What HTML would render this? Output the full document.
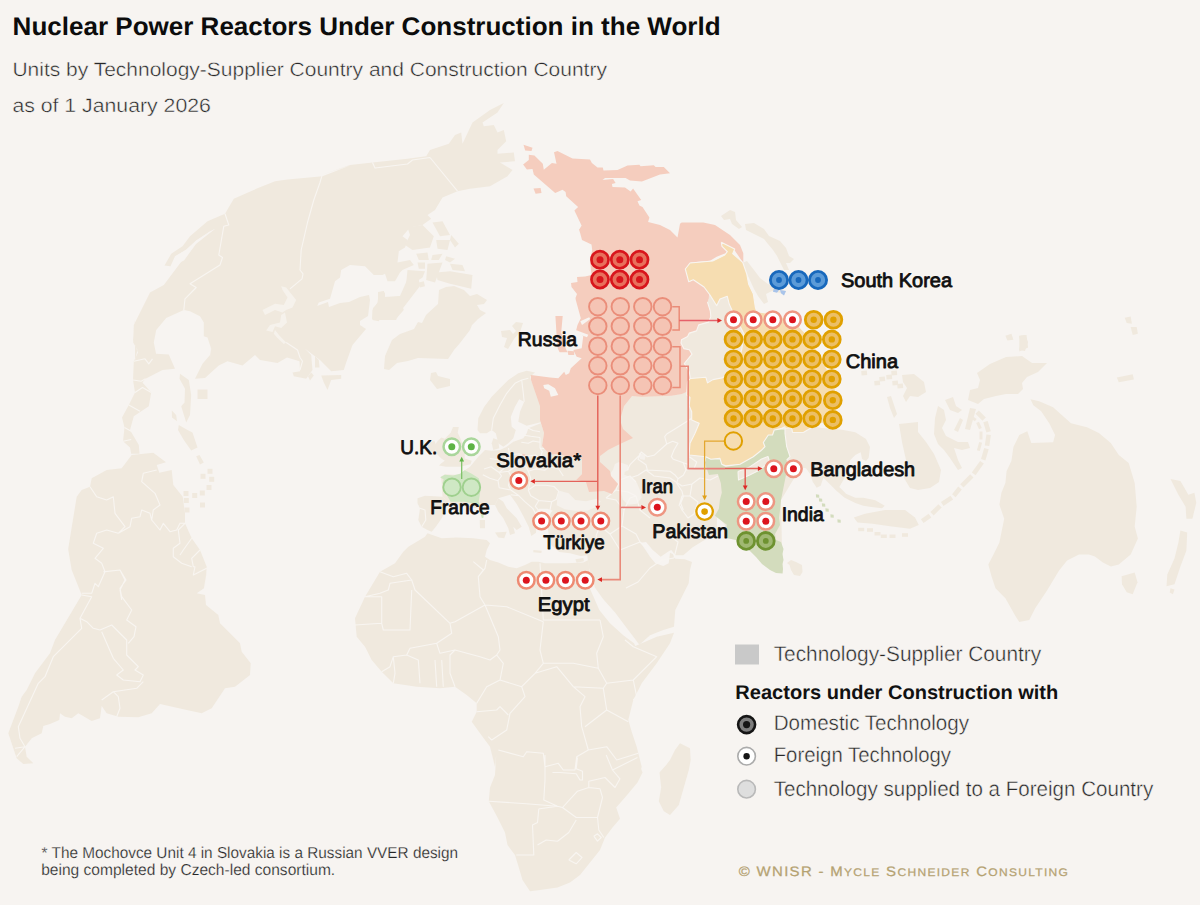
<!DOCTYPE html>
<html lang="en"><head><meta charset="utf-8">
<title>Nuclear Power Reactors Under Construction in the World</title>
<style>
html,body{margin:0;padding:0;background:#f7f4f1;}
body{width:1200px;height:905px;overflow:hidden;font-family:"Liberation Sans", sans-serif;}
svg{display:block}
</style></head><body>
<svg width="1200" height="905" viewBox="0 0 1200 905" font-family='"Liberation Sans", sans-serif' text-rendering="geometricPrecision">
<path d="M457.5 191.2 L470.0 188.8 L490.0 186.2 L507.5 176.2 L512.5 170.0 L500.0 162.5 L515.0 161.2 L513.8 152.5 L497.5 153.8 L497.5 150.0 L506.2 141.2 L503.8 130.0 L497.5 132.5 L493.8 125.0 L483.8 126.2 L482.5 122.5 L497.5 112.5 L503.8 103.0 L490.0 110.0 L472.5 122.5 L462.5 143.8 L461.2 132.5 L455.0 135.0 L448.8 143.8 L430.0 150.0 L426.2 156.2 L407.5 158.8 L372.5 162.5 L350.0 165.0 L321.2 175.0 L351.2 165.0 L322.5 176.2 L287.5 179.5 L275.0 181.2 L256.2 188.8 L233.8 198.8 L225.0 213.8 L207.5 221.2 L190.0 236.2 L182.5 246.2 L171.2 253.8 L164.5 265.5 L170.5 266.2 L175.0 256.2 L186.2 250.0 L196.2 240.5 L210.0 231.2 L215.5 228.8 L195.0 242.5 L182.5 260.0 L163.8 285.0 L150.0 292.5 L133.8 325.0 L133.2 342.5 L137.5 350.0 L135.0 360.0 L135.0 320.0 L133.0 340.0 L138.0 352.5 L133.8 361.2 L133.0 380.0 L135.0 392.5 L128.8 405.0 L122.0 417.5 L124.5 427.5 L123.0 441.2 L130.0 447.5 L131.2 453.8 L139.5 453.8 L138.8 445.0 L130.0 430.0 L133.8 416.2 L148.8 406.2 L151.2 392.5 L142.5 382.5 L145.5 378.8 L162.5 370.0 L175.0 368.8 L168.8 354.5 L156.2 353.8 L156.2 354.5 L153.8 342.5 L156.2 330.0 L166.2 318.0 L183.8 310.0 L190.0 311.2 L200.0 316.2 L203.8 322.5 L203.8 336.2 L207.5 337.5 L211.2 348.8 L210.0 357.5 L211.2 342.5 L210.0 355.0 L202.5 363.8 L195.0 378.8 L205.0 378.0 L218.8 365.5 L227.5 361.2 L242.5 365.5 L255.0 355.0 L260.0 360.0 L277.5 363.0 L287.0 357.5 L299.5 361.2 L300.0 371.2 L292.5 372.5 L293.8 376.2 L306.2 378.8 L312.5 370.0 L311.2 355.0 L305.0 348.8 L320.0 360.0 L331.2 371.2 L343.8 370.0 L346.2 362.5 L352.5 345.0 L366.2 328.8 L366.0 329.0 L360.0 325.0 L360.0 321.0 L368.0 316.0 L370.0 300.0 L369.0 295.0 L360.0 297.0 L349.0 302.0 L340.0 303.0 L329.0 307.0 L328.0 302.0 L317.0 306.0 L314.0 313.0 L318.8 302.5 L330.0 298.8 L335.0 281.2 L340.0 277.5 L341.2 270.0 L350.0 265.0 L365.0 266.2 L373.8 275.0 L382.5 275.0 L385.0 273.8 L387.5 281.2 L395.0 281.2 L400.0 272.5 L402.5 270.0 L413.8 265.0 L410.0 260.0 L397.5 262.5 L398.8 251.2 L405.0 247.5 L407.5 240.0 L402.5 236.2 L410.0 227.5 L422.5 225.0 L431.2 218.8 L427.5 215.0 L435.0 210.0 L442.5 197.5Z" fill="#f0e9de"/>
<path d="M378.0 292.0 L384.0 291.0 L384.0 297.0 L400.0 296.0 L408.0 278.0 L418.0 276.0 L420.0 286.0 L400.0 312.0 L397.0 318.0 L389.0 317.0 L388.0 320.0 L380.0 318.0 L379.0 320.0 L372.0 319.0 L373.0 308.0 L378.0 303.0Z" fill="#f0e9de"/>
<path d="M407.5 270.0 L425.0 271.2 L422.5 277.5 L411.2 285.0 L400.0 305.0 L396.2 320.0 L373.8 320.0 L375.0 307.5 L380.0 300.0 L378.8 292.5 L385.0 292.5 L385.0 298.8 L405.0 295.0Z" fill="#f0e9de"/>
<path d="M407.5 227.5 L422.5 225.0 L433.8 236.2 L430.0 247.5 L412.5 250.0 L405.0 245.0 L410.0 235.0Z" fill="#f0e9de"/>
<path d="M432.5 222.5 L442.5 221.2 L450.0 235.0 L440.0 236.2Z" fill="#f0e9de"/>
<path d="M436.2 240.0 L450.0 240.0 L447.5 250.0 L437.5 248.8Z" fill="#f0e9de"/>
<path d="M451.2 235.0 L458.8 243.8 L455.0 247.5 L450.0 240.0Z" fill="#f0e9de"/>
<path d="M416.2 253.8 L427.5 252.5 L428.8 260.0 L418.8 260.0Z" fill="#f0e9de"/>
<path d="M432.5 255.0 L442.5 253.8 L438.8 260.0 L431.2 260.0Z" fill="#f0e9de"/>
<path d="M446.2 256.2 L455.0 258.8 L450.0 262.5 L445.0 260.0Z" fill="#f0e9de"/>
<path d="M450.0 263.8 L462.5 265.0 L465.0 271.2 L452.5 270.0Z" fill="#f0e9de"/>
<path d="M417.5 262.5 L425.0 262.5 L425.0 268.8 L418.8 268.8Z" fill="#f0e9de"/>
<path d="M427.5 263.8 L442.5 262.5 L435.0 282.5 L426.2 280.0Z" fill="#f0e9de"/>
<path d="M436.2 272.5 L450.0 271.2 L472.5 275.0 L471.2 288.8 L450.0 283.8 L437.5 280.0Z" fill="#f0e9de"/>
<path d="M418.8 282.5 L423.8 281.2 L425.0 286.2 L420.0 287.5Z" fill="#f0e9de"/>
<path d="M378.8 292.5 L383.8 291.2 L385.0 298.8 L400.0 297.5 L403.8 310.0 L395.0 320.0 L387.5 317.5 L385.0 320.0 L380.0 318.8 L378.8 321.2 L372.5 320.0 L372.5 310.0 L377.5 302.5Z" fill="#f0e9de"/>
<path d="M384.0 369.0 L385.0 356.0 L392.0 340.0 L400.0 334.0 L414.0 329.0 L418.0 322.0 L422.0 323.0 L426.0 315.0 L438.0 304.0 L439.0 290.0 L446.0 287.0 L454.0 286.0 L464.0 290.0 L470.0 296.0 L477.0 294.0 L487.0 300.0 L484.0 304.0 L477.0 305.0 L480.0 310.0 L486.0 313.0 L478.0 319.0 L472.0 325.0 L470.0 330.0 L460.0 343.0 L454.0 350.0 L448.0 359.0 L418.0 358.0 L408.0 361.0 L397.0 363.0 L389.0 370.0Z" fill="#f0e9de"/>
<path d="M431.0 373.0 L436.0 372.0 L438.0 376.0 L450.0 379.0 L450.0 386.0 L437.0 389.0 L430.0 380.0Z" fill="#f0e9de"/>
<path d="M501.0 331.0 L510.0 330.0 L513.0 334.0 L516.0 331.0 L512.0 326.0 L516.0 322.0 L523.0 323.0 L520.0 332.0 L514.0 339.0 L508.0 349.0 L504.0 347.0 L507.0 338.0 L502.0 337.0Z" fill="#f0e9de"/>
<path d="M321.2 375.5 L341.2 375.0 L341.2 378.8 L331.2 380.0 L327.5 390.0 L323.8 382.5Z" fill="#f0e9de"/>
<path d="M315.0 356.2 L318.8 360.0 L319.5 367.5 L315.0 367.5Z" fill="#f0e9de"/>
<path d="M308.0 376.2 L311.2 372.5 L313.8 375.5 L310.0 380.5Z" fill="#f0e9de"/>
<path d="M180.0 373.8 L188.8 380.0 L191.2 395.0 L190.0 415.0 L186.2 422.5 L181.2 406.2 L184.5 402.5 L185.0 388.8 L179.5 378.8Z" fill="#f0e9de"/>
<path d="M171.8 410.5 L176.2 415.0 L177.0 421.2 L172.0 417.5Z" fill="#f0e9de"/>
<path d="M178.8 425.0 L187.5 430.0 L192.5 432.5 L197.5 447.5 L191.2 450.5 L183.8 440.0 L178.0 430.0Z" fill="#f0e9de"/>
<path d="M196.2 456.2 L199.5 455.0 L203.8 462.5 L200.0 464.5Z" fill="#f0e9de"/>
<path d="M197.5 389.5 L207.5 389.5 L207.5 399.0 L197.5 399.0Z" fill="#f0e9de"/>
<path d="M207.5 468.8 L212.5 468.8 L212.5 473.8 L207.5 473.8Z" fill="#f0e9de"/>
<path d="M200.5 473.8 L205.5 473.8 L205.5 478.8 L200.5 478.8Z" fill="#f0e9de"/>
<path d="M209.2 476.8 L214.2 476.8 L214.2 481.8 L209.2 481.8Z" fill="#f0e9de"/>
<path d="M206.5 485.0 L211.5 485.0 L211.5 490.0 L206.5 490.0Z" fill="#f0e9de"/>
<path d="M199.8 490.5 L204.8 490.5 L204.8 495.5 L199.8 495.5Z" fill="#f0e9de"/>
<path d="M192.2 493.0 L197.2 493.0 L197.2 498.0 L192.2 498.0Z" fill="#f0e9de"/>
<path d="M183.5 491.0 L188.5 491.0 L188.5 496.0 L183.5 496.0Z" fill="#f0e9de"/>
<path d="M183.8 498.0 L188.8 498.0 L188.8 503.0 L183.8 503.0Z" fill="#f0e9de"/>
<path d="M200.0 502.5 L205.0 502.5 L205.0 507.5 L200.0 507.5Z" fill="#f0e9de"/>
<path d="M184.5 507.5 L189.5 507.5 L189.5 512.5 L184.5 512.5Z" fill="#f0e9de"/>
<path d="M131.7 455.0 L153.3 452.7 L166.0 462.3 L156.7 465.0 L159.3 472.7 L171.7 470.0 L173.3 485.0 L182.7 496.7 L185.0 513.3 L185.0 523.3 L191.7 538.3 L200.0 550.0 L206.7 566.7 L205.0 586.7 L206.7 570.0 L204.0 588.3 L196.7 593.3 L205.0 595.0 L206.0 605.0 L218.3 615.0 L220.0 623.3 L240.0 643.3 L241.7 651.7 L250.7 663.3 L250.0 675.0 L235.0 686.7 L225.0 688.3 L211.7 708.3 L201.7 713.3 L186.7 710.0 L160.0 704.0 L151.7 713.3 L138.3 717.3 L118.3 716.7 L106.7 713.3 L101.7 706.0 L100.0 718.3 L91.7 721.0 L78.3 713.3 L71.7 718.3 L65.0 716.7 L60.0 713.3 L59.3 720.0 L50.0 724.0 L43.3 726.0 L41.7 733.3 L31.7 738.3 L25.0 746.7 L26.7 756.7 L33.3 763.3 L23.3 764.0 L16.7 758.3 L13.3 748.3 L8.3 733.3 L13.3 720.0 L18.3 706.7 L21.7 696.7 L26.7 690.0 L35.0 673.3 L50.0 653.3 L55.0 640.0 L81.7 595.0 L71.7 570.0 L68.3 550.0 L68.3 548.3 L76.7 496.7 L81.7 490.0 L90.0 486.7 L91.7 478.3 L106.7 470.0 L121.7 468.3Z" fill="#f0e9de"/>
<path d="M403.3 551.7 L408.3 546.7 L416.7 541.7 L425.0 536.7 L427.5 533.3 L441.7 538.3 L456.7 537.5 L473.3 538.3 L486.7 540.0 L490.0 543.3 L486.7 550.0 L485.0 556.7 L490.0 560.0 L498.3 562.5 L508.3 566.7 L516.7 568.3 L525.0 565.0 L531.7 561.7 L538.3 561.7 L545.0 563.3 L566.7 563.3 L583.3 562.5 L588.3 560.0 L590.0 575.0 L590.0 588.7 L599.3 610.0 L610.0 623.3 L623.3 635.3 L634.0 643.3 L635.3 646.0 L644.7 642.0 L656.7 636.7 L674.0 632.7 L670.0 643.3 L656.7 663.3 L641.7 683.3 L633.3 700.0 L628.3 720.0 L631.7 731.7 L636.7 746.7 L641.7 766.7 L638.3 780.0 L638.8 762.5 L642.5 772.5 L637.5 782.5 L625.0 797.5 L616.2 807.5 L620.0 818.8 L612.5 827.5 L605.0 837.5 L600.0 850.0 L590.0 862.5 L580.0 875.0 L570.0 882.5 L557.5 887.5 L540.0 890.0 L530.0 891.2 L522.5 880.0 L518.8 867.5 L515.0 855.0 L507.5 845.0 L505.0 832.5 L497.5 817.5 L488.8 801.2 L490.0 787.5 L495.0 775.0 L496.2 755.0 L495.0 766.7 L490.0 746.7 L480.0 733.3 L471.7 721.7 L476.7 711.7 L476.7 703.3 L466.7 695.0 L455.0 686.7 L440.0 688.3 L416.7 686.7 L393.3 683.3 L381.7 671.7 L371.7 660.0 L365.0 646.7 L356.7 636.7 L355.0 618.3 L365.0 596.7 L380.0 571.7 L395.0 563.3Z" fill="#f0e9de"/>
<path d="M680.0 743.3 L690.0 748.3 L690.7 760.0 L688.8 770.0 L683.8 787.5 L678.8 805.0 L670.0 815.0 L663.8 811.2 L658.8 801.2 L661.2 787.5 L659.5 772.5 L666.2 765.0 L670.0 760.0 L675.0 750.0Z" fill="#f0e9de"/>
<path d="M594.7 587.3 L603.3 599.3 L615.3 612.7 L627.3 628.7 L635.3 639.3 L639.3 644.7 L650.0 635.3 L663.3 630.0 L674.0 626.7 L675.3 610.0 L683.3 594.0 L688.7 583.3 L690.0 570.0 L692.0 562.0 L684.7 559.3 L675.3 558.7 L672.7 554.0 L670.0 552.7 L668.7 563.3 L663.3 566.0 L655.3 563.3 L650.0 556.7 L644.7 548.7 L640.7 543.3 L620.0 538.0 L600.0 552.0 L592.0 572.0Z" fill="#f0e9de"/>
<path d="M552.7 510.7 L556.0 492.0 L586.0 480.0 L600.0 456.0 L608.0 440.0 L612.0 400.0 L630.0 388.0 L641.7 390.0 L671.7 395.8 L688.0 392.0 L687.5 381.7 L700.0 400.0 L700.0 455.0 L720.0 458.3 L740.0 464.2 L760.8 450.8 L772.5 435.0 L791.7 427.5 L803.3 432.5 L822.0 432.0 L781.0 500.0 L782.5 573.5 L750.0 551.0 L736.0 540.0 L726.5 538.0 L725.0 525.0 L717.0 516.0 L716.7 534.0 L703.3 540.7 L692.7 547.3 L683.3 555.3 L675.3 555.3 L671.3 550.0 L668.7 551.3 L660.7 556.7 L652.7 550.0 L646.0 542.0 L640.7 542.7 L625.0 545.0 L605.0 560.0 L594.0 578.0 L591.3 574.7 L589.3 569.3 L588.0 561.3 L587.3 555.3 L580.7 556.0 L570.0 553.3 L559.3 552.0 L551.3 545.3 L548.7 534.7 L547.3 524.0 L548.7 517.3 L551.3 512.0Z" fill="#f0e9de"/>
<path d="M783.0 427.0 L800.0 424.0 L822.0 428.0 L842.0 429.7 L855.3 432.3 L866.0 439.0 L870.0 447.0 L868.7 457.7 L866.0 461.0 L862.0 459.0 L860.7 452.3 L855.3 455.0 L850.0 460.3 L848.7 468.3 L844.7 477.7 L839.3 487.0 L846.0 493.7 L855.3 497.7 L863.3 497.7 L875.3 500.3 L884.7 505.7 L882.0 508.3 L871.3 507.0 L863.3 505.7 L855.3 503.0 L844.7 497.7 L836.7 491.0 L828.7 483.0 L823.3 477.7 L820.7 485.7 L816.7 487.7 L812.7 481.7 L810.0 473.7 L806.0 468.3 L796.7 467.0 L787.3 468.3 L783.3 479.0Z" fill="#f0e9de"/>
<path d="M707.5 302.2 L710.3 311.0 L710.8 316.6 L708.6 322.1 L698.7 324.9 L696.5 330.9 L689.3 333.1 L687.6 336.5 L681.5 339.8 L681.0 343.1 L683.8 348.6 L689.3 349.7 L692.0 354.1 L684.3 363.5 L689.3 371.8 L690.4 378.5 L705.9 377.3 L707.5 382.9 L713.0 379.6 L721.9 377.9 L725.2 376.2 L738.0 365.0 L742.0 348.0 L744.0 334.0 L732.7 311.7 L729.3 304.3 L727.3 296.3 L720.0 299.0 L716.7 305.7 L710.0 295.0Z" fill="#f0e9de"/>
<path d="M742.0 263.0 L747.0 261.0 L754.0 270.0 L760.0 278.0 L768.0 284.0 L773.0 286.0 L779.0 289.6 L786.0 291.0 L784.0 295.0 L780.0 293.0 L772.0 291.0 L766.0 294.0 L768.0 302.0 L764.0 304.0 L758.0 296.0 L754.0 289.0 L749.0 278.0 L745.0 270.0Z" fill="#f0e9de"/>
<path d="M721.0 216.0 L730.0 210.0 L735.0 212.0 L736.0 220.0 L742.0 227.0 L739.0 229.0 L732.0 224.0 L730.0 219.0 L724.0 220.0Z" fill="#f0e9de"/>
<path d="M745.0 224.0 L754.0 223.0 L764.0 229.0 L769.0 236.0 L780.0 241.0 L786.0 248.0 L789.0 256.0 L794.0 259.0 L790.0 263.0 L786.0 263.0 L789.0 270.0 L784.0 270.0 L780.0 262.0 L777.0 256.0 L773.0 250.0 L768.0 244.0 L764.0 239.0 L752.0 233.0 L746.0 230.0Z" fill="#f0e9de"/>
<path d="M787.0 563.0 L791.0 560.0 L796.0 562.0 L802.0 565.0 L802.5 572.0 L800.0 576.0 L794.0 575.0 L791.0 570.0 L789.5 565.0Z" fill="#f0e9de"/>
<path d="M477.5 430.0 L478.3 418.3 L484.2 406.7 L491.7 396.7 L500.0 388.3 L508.3 380.0 L518.3 373.3 L526.7 370.8 L535.0 372.5 L530.0 376.7 L531.7 381.7 L536.7 393.3 L541.7 410.0 L542.5 421.7 L526.7 425.8 L518.3 421.7 L520.0 411.7 L524.2 401.7 L519.2 399.2 L515.0 406.7 L510.8 416.7 L511.7 426.7 L515.8 430.0 L513.3 438.3 L508.3 443.3 L503.3 446.7 L498.3 443.3 L495.8 433.3 L491.7 430.0 L486.7 433.3 L480.0 433.3Z" fill="#f0e9de"/>
<path d="M493.3 438.3 L498.3 440.0 L499.2 448.3 L493.3 450.0 L491.7 443.3Z" fill="#f0e9de"/>
<path d="M439.0 465.5 L441.3 463.2 L444.8 460.8 L441.3 458.5 L436.7 453.8 L434.3 446.8 L436.7 442.2 L441.3 437.5 L444.8 438.7 L450.7 432.8 L453.0 427.0 L458.8 427.0 L457.7 432.8 L460.0 437.5 L462.3 443.3 L464.7 450.3 L464.7 458.5 L471.7 460.8 L470.5 464.3 L460.0 466.7 L446.0 466.7Z" fill="#f0e9de"/>
<path d="M428.5 443.3 L434.3 440.4 L436.1 445.1 L434.9 450.9 L430.3 452.1 L427.9 448.0Z" fill="#f0e9de"/>
<path d="M417.5 498.3 L425.0 495.8 L442.5 496.7 L448.3 501.7 L445.0 511.7 L441.7 518.3 L435.8 526.7 L431.7 531.7 L427.5 530.0 L421.7 526.7 L418.3 520.0 L420.0 508.3 L417.5 503.3Z" fill="#f0e9de"/>
<path d="M442.5 496.7 L441.7 483.0 L440.8 476.7 L445.0 474.2 L460.0 475.0 L462.5 471.7 L470.0 466.7 L478.3 456.7 L485.0 450.0 L491.7 450.8 L500.0 450.0 L506.7 446.7 L513.3 441.7 L523.3 438.3 L526.7 433.3 L528.3 428.3 L542.5 422.5 L540.0 420.0 L544.0 433.0 L542.0 446.0 L550.0 455.0 L556.0 454.0 L582.0 459.0 L582.0 474.0 L576.0 480.0 L586.0 482.0 L590.0 500.0 L580.0 512.0 L552.7 510.7 L547.3 508.7 L539.3 508.7 L534.7 513.3 L536.7 522.7 L536.0 532.7 L531.3 536.0 L528.7 526.7 L523.3 516.0 L516.7 504.0 L510.0 494.7 L498.3 498.3 L495.0 505.0 L488.3 505.0 L478.3 508.3 L466.7 506.7 L455.0 505.0 L448.3 501.7Z" fill="#f0e9de"/>
<path d="M498.3 498.3 L503.3 501.7 L506.7 508.3 L516.7 518.3 L521.7 526.7 L516.7 530.0 L513.3 526.7 L515.0 533.3 L510.0 535.0 L508.3 528.3 L503.3 518.3 L498.3 511.7 L495.0 505.0Z" fill="#f0e9de"/>
<path d="M495.0 532.5 L506.7 531.7 L504.2 538.3 L498.3 537.5Z" fill="#f0e9de"/>
<path d="M479.7 520.0 L485.0 520.0 L485.0 528.3 L480.0 528.3Z" fill="#f0e9de"/>
<path d="M575.3 559.3 L583.3 558.0 L584.0 561.3 L576.7 562.7Z" fill="#f0e9de"/>
<path d="M533.3 550.0 L541.7 550.8 L541.3 553.0 L533.3 552.2Z" fill="#f0e9de"/>
<path d="M853.8 517.5 L865.0 513.8 L885.0 510.0 L905.0 510.0 L915.0 517.5 L918.8 525.0 L910.0 528.8 L890.0 526.2 L872.5 523.8 L857.5 522.5Z" fill="#f0e9de"/>
<path d="M899.0 424.0 L918.0 422.0 L918.0 432.0 L926.0 442.0 L934.0 454.0 L941.0 470.0 L939.0 482.0 L930.0 488.0 L918.0 490.0 L910.0 488.0 L904.0 478.0 L906.0 460.0 L902.0 442.0Z" fill="#f0e9de"/>
<path d="M938.0 406.0 L944.0 410.0 L946.0 420.0 L942.0 428.0 L946.0 436.0 L958.0 442.0 L968.0 442.0 L970.0 448.0 L962.0 450.0 L954.0 448.0 L958.0 460.0 L962.0 468.0 L958.0 470.0 L950.0 458.0 L944.0 450.0 L938.0 444.0 L934.0 434.0 L935.0 418.0Z" fill="#f0e9de"/>
<path d="M945.0 400.0 L953.0 397.0 L956.0 406.0 L962.0 410.0 L958.0 413.0 L950.0 410.0Z" fill="#f0e9de"/>
<path d="M960.0 418.0 L963.0 420.0 L958.0 432.0 L954.0 430.0Z" fill="#f0e9de"/>
<path d="M970.0 408.0 L976.0 409.0 L970.0 430.0 L965.0 429.0Z" fill="#f0e9de"/>
<path d="M887.0 397.0 L891.0 396.0 L897.0 414.0 L894.0 418.0 L890.0 408.0Z" fill="#f0e9de"/>
<path d="M902.0 375.0 L914.0 374.0 L924.0 382.0 L926.0 392.0 L918.0 397.0 L910.0 396.0 L906.0 402.0 L903.0 396.0 L907.0 388.0 L903.0 382.0Z" fill="#f0e9de"/>
<path d="M861.2 371.0 L866.8 370.6 L867.2 375.0 L861.6 375.4Z" fill="#f0e9de"/>
<path d="M874.2 381.0 L879.8 380.6 L880.2 385.0 L874.6 385.4Z" fill="#f0e9de"/>
<path d="M879.2 377.0 L884.8 376.6 L885.2 381.0 L879.6 381.4Z" fill="#f0e9de"/>
<path d="M886.2 375.0 L891.8 374.6 L892.2 379.0 L886.6 379.4Z" fill="#f0e9de"/>
<path d="M892.2 381.0 L897.8 380.6 L898.2 385.0 L892.6 385.4Z" fill="#f0e9de"/>
<path d="M897.2 384.0 L902.8 383.6 L903.2 388.0 L897.6 388.4Z" fill="#f0e9de"/>
<path d="M891.2 371.0 L896.8 370.6 L897.2 375.0 L891.6 375.4Z" fill="#f0e9de"/>
<path d="M977.0 373.0 L990.0 364.0 L1006.0 357.0 L1022.0 356.0 L1032.0 363.0 L1047.0 363.0 L1038.0 372.0 L1027.0 377.0 L1022.0 383.0 L1023.0 389.0 L1018.0 394.0 L1006.0 394.0 L996.0 396.0 L984.0 399.0 L978.0 404.0 L968.0 400.0 L970.0 390.0 L978.0 388.0 L980.0 380.0Z" fill="#f0e9de"/>
<path d="M1019.0 336.0 L1025.0 335.0 L1028.0 342.0 L1025.0 351.0 L1019.0 350.0 L1021.0 343.0Z" fill="#f0e9de"/>
<path d="M923.6 523.0 L931.3 517.4 L928.6 513.7 L920.9 519.2Z" fill="#f0e9de"/>
<path d="M933.7 515.4 L941.7 507.5 L938.4 504.2 L930.4 512.1Z" fill="#f0e9de"/>
<path d="M943.5 505.9 L953.1 499.5 L950.5 495.7 L940.9 502.1Z" fill="#f0e9de"/>
<path d="M955.6 497.2 L961.8 489.5 L958.2 486.6 L952.1 494.3Z" fill="#f0e9de"/>
<path d="M963.5 487.6 L973.5 477.6 L970.2 474.3 L960.2 484.3Z" fill="#f0e9de"/>
<path d="M975.6 475.2 L983.8 463.5 L980.1 460.9 L971.8 472.5Z" fill="#f0e9de"/>
<path d="M985.4 460.4 L988.7 449.2 L984.2 447.9 L981.0 459.1Z" fill="#f0e9de"/>
<path d="M989.3 446.1 L990.9 435.0 L986.4 434.4 L984.8 445.5Z" fill="#f0e9de"/>
<path d="M990.8 431.3 L987.7 420.9 L983.3 422.2 L986.4 432.6Z" fill="#f0e9de"/>
<path d="M985.8 417.5 L978.8 410.5 L975.5 413.8 L982.5 420.8Z" fill="#f0e9de"/>
<path d="M979.8 450.9 L982.1 442.8 L979.2 442.1 L976.9 450.2Z" fill="#f0e9de"/>
<path d="M982.5 439.5 L982.5 431.5 L979.5 431.5 L979.5 439.5Z" fill="#f0e9de"/>
<path d="M981.8 428.0 L979.0 421.8 L976.2 423.0 L979.0 429.2Z" fill="#f0e9de"/>
<path d="M976.7 418.9 L972.1 415.7 L970.3 418.1 L974.9 421.3Z" fill="#f0e9de"/>
<path d="M858.2 527.8 L864.2 527.8 L864.2 531.2 L858.2 531.2Z" fill="#f0e9de"/>
<path d="M867.0 528.2 L873.0 528.2 L873.0 531.8 L867.0 531.8Z" fill="#f0e9de"/>
<path d="M874.5 532.0 L880.5 532.0 L880.5 535.5 L874.5 535.5Z" fill="#f0e9de"/>
<path d="M880.8 534.5 L886.8 534.5 L886.8 538.0 L880.8 538.0Z" fill="#f0e9de"/>
<path d="M889.5 534.5 L895.5 534.5 L895.5 538.0 L889.5 538.0Z" fill="#f0e9de"/>
<path d="M902.0 533.2 L908.0 533.2 L908.0 536.8 L902.0 536.8Z" fill="#f0e9de"/>
<path d="M1030.5 399.3 L1039.2 401.3 L1053.1 407.3 L1071.0 423.2 L1087.0 427.2 L1098.9 433.1 L1110.8 443.1 L1118.8 455.0 L1128.7 463.0 L1134.7 482.9 L1136.7 506.7 L1134.7 526.6 L1137.9 538.6 L1130.7 554.5 L1118.8 564.4 L1110.8 566.4 L1102.9 562.4 L1094.9 556.5 L1088.9 554.5 L1079.0 554.5 L1067.1 560.4 L1059.1 570.4 L1047.2 590.3 L1035.2 608.2 L1029.3 620.1 L1019.3 622.1 L1015.4 616.1 L1005.4 598.2 L995.5 588.3 L991.5 576.3 L988.3 564.4 L993.5 554.5 L999.4 542.5 L1004.2 518.7 L999.4 504.7 L1001.4 492.8 L1005.4 482.9 L1006.6 470.9 L1011.4 461.0 L1013.4 447.1 L1019.3 435.1 L1027.3 431.2 L1031.3 443.1 L1053.1 442.3 L1055.1 435.1 L1049.2 423.2 L1041.2 411.3 L1033.3 405.3Z" fill="#f0e9de"/>
<path d="M1121.6 576.3 L1134.7 572.4 L1137.5 582.3 L1132.7 594.2 L1126.7 592.3 L1122.0 584.3Z" fill="#f0e9de"/>
<path d="M1170.5 478.9 L1180.4 480.9 L1188.4 494.8 L1194.4 492.8 L1196.3 502.8 L1192.4 518.7 L1186.4 518.7 L1185.6 506.7 L1178.4 494.8Z" fill="#f0e9de"/>
<path d="M1180.4 530.6 L1187.2 532.6 L1186.4 550.5 L1180.4 566.4 L1174.5 584.3 L1166.5 586.3 L1167.3 574.4 L1174.5 558.4 L1178.4 542.5Z" fill="#f0e9de"/>
<path d="M1170.5 588.3 L1174.5 589.5 L1172.9 594.2 L1169.7 592.6Z" fill="#f0e9de"/>
<path d="M1116.8 377.5 L1132.7 374.3 L1133.9 379.4 L1118.8 382.2Z" fill="#f0e9de"/>
<path d="M1124.7 317.8 L1130.7 316.6 L1131.9 323.8 L1126.7 323.0Z" fill="#f0e9de"/>
<path d="M1130.7 326.9 L1136.7 326.9 L1137.9 333.7 L1132.7 334.9Z" fill="#f0e9de"/>
<path d="M1019.3 335.7 L1026.5 334.9 L1028.1 347.6 L1019.3 351.6 L1019.3 343.6Z" fill="#f0e9de"/>
<path d="M1005.4 335.7 L1011.4 333.7 L1013.4 339.7 L1007.4 340.5Z" fill="#f0e9de"/>
<path d="M614.9 463.9 L618.9 461.9 L627.8 464.9 L628.8 469.9 L624.8 471.8 L624.3 474.8 L631.8 477.8 L636.8 482.8 L639.8 489.8 L641.7 497.7 L636.8 503.7 L627.8 504.7 L622.8 499.7 L620.8 491.7 L617.9 483.8 L610.9 479.8 L609.9 473.8 L612.9 469.9Z" fill="#f5f1ec"/>
<path d="M638.8 452.9 L645.7 454.9 L644.7 459.9 L639.8 458.9Z" fill="#f5f1ec"/>
<path d="M559.3 490.7 L568.7 493.3 L575.3 500.0 L586.0 501.3 L596.7 498.7 L600.7 501.3 L596.7 506.7 L587.3 510.7 L575.3 510.7 L564.7 509.3 L556.7 505.3 L557.3 497.3Z" fill="#f5f1ec"/>
<path d="M262.5 310.0 L275.0 303.8 L283.8 305.0 L287.5 297.5 L282.5 290.0 L281.2 286.2 L286.2 287.5 L296.2 300.0 L292.5 307.5 L286.2 310.0 L282.5 312.5 L275.0 310.0 L265.0 315.0Z" fill="#f6f2ec"/>
<path d="M285.0 312.5 L287.0 322.5 L281.2 328.0 L275.0 326.2 L272.5 332.0 L266.2 330.5 L270.0 325.0 L280.0 322.5 L281.2 315.0Z" fill="#f6f2ec"/>
<path d="M275.0 330.0 L280.0 336.2 L286.2 342.5 L283.8 344.0 L277.5 338.0 L273.8 333.8Z" fill="#f6f2ec"/>
<path d="M214.5 229.2 L196.2 240.5 L186.2 249.5 L175.5 256.2 L172.5 266.0 L184.0 260.5 L196.0 244.0Z" fill="#f7f4f1"/>
<path d="M321.8 176.2 L320.0 182.5 L313.8 200.0 L307.5 222.5 L301.2 250.0 L300.0 270.0 L303.0 273.8 L302.0 278.8 L290.0 288.8 M286.2 342.5 L297.5 350.0 L300.0 357.5 L302.5 361.2 L300.0 370.0 M430.0 157.5 L457.5 191.2 M372.5 162.5 L375.0 168.0 L407.5 164.0 L412.5 160.0 L430.0 157.5 M225.0 213.8 L228.8 225.0 L223.8 226.2 L218.8 255.0 L222.5 257.5 L220.0 265.0 L190.0 283.8 L196.2 287.5 L185.0 298.8 L183.8 310.0 M133.8 361.2 L145.0 358.8 L148.8 363.8 L152.5 358.8 M133.0 380.0 L141.2 381.2 L145.5 378.8 M135.0 392.5 L142.5 387.5 L151.2 392.5 M128.8 405.0 L140.0 411.2 M124.5 427.5 L131.2 431.2 M123.0 441.2 L131.2 439.5 M156.7 470.0 L143.3 473.3 L141.7 481.7 L155.0 493.3 L160.0 505.0 L153.3 510.0 L151.7 520.0 M90.0 486.7 L96.7 496.7 L106.7 500.0 L113.3 496.7 L115.0 513.3 L125.0 526.7 L118.3 533.3 M151.7 520.0 L150.0 513.3 L141.7 510.0 L140.0 516.7 L131.7 518.3 L130.0 526.7 L118.3 533.3 M151.7 520.0 L160.0 530.0 L163.3 523.3 L170.0 531.7 L176.7 530.0 L180.0 523.3 L185.0 523.3 L178.3 530.0 L180.0 543.3 L173.3 548.3 L173.3 556.7 L181.7 563.3 L191.7 566.7 M191.7 538.3 L183.3 550.0 L180.0 555.0 M200.0 550.0 L191.7 558.3 L193.3 566.7 L195.0 566.7 L193.3 575.0 L206.7 568.3 M118.3 533.3 L106.7 530.0 L96.7 533.3 L93.3 543.3 L103.3 548.3 L95.0 558.3 L101.7 563.3 L105.0 571.7 L120.0 570.0 L125.0 580.0 L120.0 590.0 L121.7 600.0 M105.0 571.7 L98.3 586.7 L95.0 583.3 L91.7 593.3 L81.7 593.3 M81.7 595.0 L91.7 596.7 L80.0 618.3 L86.7 621.7 L93.3 628.3 L100.0 630.0 L111.7 625.0 L126.7 640.0 L126.7 655.0 L138.3 666.7 L135.0 670.0 L143.3 675.0 L140.0 681.7 L123.3 680.0 L116.7 675.0 L123.3 670.0 L113.3 658.3 L101.7 631.7 M103.3 571.7 L120.0 570.0 L126.0 580.0 L120.0 588.3 L121.7 596.7 L131.7 610.0 L126.7 620.0 L136.0 626.7 L134.0 636.7 L128.3 643.3 M80.0 618.3 L81.7 628.3 L53.3 656.7 L45.0 676.7 L38.3 683.3 L18.3 726.7 L20.0 738.3 L25.0 746.7 L15.0 748.3 M25.0 746.7 L16.7 756.7 M101.7 700.0 L113.3 691.7 L136.7 688.3 L143.3 681.7 M113.3 691.7 L118.3 696.7 L120.0 708.3 L116.7 716.7 M380.0 571.7 L393.3 576.7 L406.7 573.3 L411.7 580.0 L390.0 583.3 L388.3 590.0 L380.0 593.3 L365.0 596.7 M411.7 580.0 L415.0 590.0 L450.0 623.3 L455.0 621.7 L485.0 605.0 L480.0 596.7 L478.3 576.7 L483.3 570.0 L473.3 561.7 M478.3 576.7 L485.0 568.3 L486.7 560.0 M540.0 563.3 L543.3 620.0 L600.0 620.0 M485.0 605.0 L506.7 606.7 L543.3 621.7 M365.0 596.7 L381.7 596.7 L381.7 623.3 L355.0 625.0 M381.7 623.3 L383.3 630.0 L410.0 630.0 L411.7 590.0 M450.0 623.3 L451.7 633.3 L436.7 643.3 L410.0 648.3 L406.7 655.0 L393.3 656.7 L390.0 666.7 L381.7 671.7 M485.0 605.0 L498.3 636.7 L500.0 650.0 L496.7 655.0 M543.3 621.7 L540.0 650.0 L543.3 663.3 L535.0 673.3 M455.0 650.0 L450.0 655.0 L450.0 673.3 L455.0 686.7 M436.7 643.3 L440.0 653.3 L455.0 650.0 L480.0 656.7 L490.0 660.0 L496.7 655.0 L503.3 663.3 L500.0 680.0 L486.7 686.7 L476.7 703.3 M406.7 655.0 L418.3 660.0 L420.0 683.3 M435.0 660.0 L436.7 686.7 M441.7 660.0 L443.3 686.7 M393.3 656.7 L395.0 673.3 L393.3 683.3 M535.0 673.3 L556.7 666.7 L573.3 686.7 L585.0 696.7 L580.0 706.7 L581.7 726.7 L588.3 750.0 L576.7 756.7 L575.0 770.0 L563.3 770.0 L558.3 763.3 L545.0 766.7 L543.3 753.3 L526.7 751.7 L523.3 756.7 L498.3 750.0 M500.0 680.0 L521.7 686.7 L535.0 673.3 M521.7 686.7 L525.0 696.7 L510.0 713.3 L506.7 730.0 L491.7 740.0 L488.3 736.7 M476.7 711.7 L496.7 710.0 L500.0 706.7 L508.3 715.0 M603.3 688.3 L606.7 710.0 L628.3 721.7 M585.0 726.7 L606.7 710.0 M588.3 750.0 L606.7 746.7 L616.7 760.0 L638.3 753.3 M600.0 620.0 L603.3 636.7 L596.7 653.3 L598.3 668.3 L606.7 683.3 L633.3 680.0 L656.7 656.7 L633.3 646.7 L625.0 640.0 M633.3 680.0 L636.7 696.7 L633.3 700.0 M543.3 663.3 L573.3 663.3 L598.3 668.3 M573.3 686.7 L603.3 688.3 L606.7 683.3 M488.8 801.2 L526.2 803.8 L557.5 806.2 M545.0 755.0 L545.0 780.0 L543.8 800.0 L557.5 806.2 L562.5 807.5 L576.2 817.5 L597.5 817.5 L598.8 830.0 L603.8 837.5 M538.8 808.8 L537.5 822.5 L532.5 825.0 L533.8 855.0 L516.2 855.0 M557.5 806.2 L540.0 808.8 L538.8 808.8 M537.5 845.0 L546.2 840.0 L557.5 841.2 L568.8 832.5 L576.2 820.0 M562.5 807.5 L577.5 791.2 L588.8 787.5 L600.0 788.8 L602.5 797.5 L597.5 817.5 M588.8 787.5 L588.8 781.2 L605.0 777.5 L615.0 787.5 L620.0 778.8 L612.5 770.0 L606.2 755.0 M612.5 770.0 L637.5 757.5 M552.5 772.5 L560.0 772.5 L576.2 773.8 L580.0 780.0 L582.5 780.0 L582.5 771.2 L576.2 768.8 L577.5 757.5 M568.8 860.0 L576.2 852.5 L582.0 857.5 L576.2 863.8 L568.8 860.0 M593.8 836.2 L597.5 833.8 L601.2 837.5 L597.5 841.2 L593.8 836.2 M627.3 470.0 L630.0 464.7 L639.3 455.3 L641.3 452.0 L647.3 456.7 L654.0 455.3 L666.7 444.0 L664.7 436.7 L666.7 434.0 L675.3 428.7 L686.0 422.0 L695.3 416.0 L700.7 422.0 M641.3 452.0 L638.0 459.3 L646.0 464.7 L647.3 470.0 L670.0 471.3 L675.3 475.3 L678.0 478.7 L683.3 475.3 L686.0 470.0 M666.7 444.0 L672.7 441.3 L678.0 443.3 L674.0 450.0 L671.3 456.7 L673.3 459.3 L683.3 462.7 L689.3 464.7 M683.3 462.7 L686.0 470.0 L694.0 468.7 L696.7 462.0 L689.3 456.7 M630.0 478.0 L638.0 475.3 L646.0 470.0 M678.0 478.7 L676.7 483.3 L682.0 491.3 L683.3 496.7 L680.7 503.3 L683.3 510.0 M508.5 448.0 L509.7 455.0 L505.0 458.5 L506.2 466.7 L499.2 472.5 L501.5 476.0 L498.0 480.7 L499.2 487.7 L510.8 490.0 L519.0 495.8 L524.8 501.7 L533.0 508.7 L535.3 513.3 M499.2 472.5 L508.5 471.3 L510.8 476.0 L508.5 485.3 L510.8 490.0 M509.7 455.0 L519.0 453.8 L526.0 456.2 L535.3 455.0 L540.0 458.5 M540.0 437.5 L540.0 448.0 L542.3 451.5 L540.0 458.5 L544.7 464.3 L535.3 469.0 L528.3 471.3 L526.0 466.7 L519.0 464.3 L508.5 471.3 M528.3 471.3 L530.7 478.3 L528.3 490.0 L530.7 495.8 L538.8 500.5 L551.7 501.7 L556.3 499.3 L558.7 491.2 L554.0 486.5 L545.8 485.3 L535.3 485.3 L528.3 490.0 M535.3 469.0 L544.7 470.2 L549.3 466.7 L558.7 469.0 L563.3 476.0 M510.8 494.7 L519.0 495.8 M526.0 427.0 L533.0 430.5 L540.0 431.7 M523.7 435.2 L530.7 436.3 L540.0 437.5 M521.3 442.2 L528.3 443.3 L533.0 441.0 L540.0 442.2 M540.0 448.0 L549.3 449.2 L558.7 446.8 M489.8 458.5 L498.0 459.7 L505.0 458.5 M484.0 469.0 L491.0 466.7 L499.2 472.5 M482.8 474.8 L489.8 478.3 L498.0 480.7 M538.8 500.5 L535.3 506.3 L540.0 512.2 L549.3 513.3 L551.7 501.7 M491.7 430.0 L493.3 418.3 L500.0 405.0 L506.7 393.3 L515.0 383.3 L521.7 380.0 L528.3 378.3 M521.7 380.0 L523.3 393.3 L524.2 401.7 M420.0 508.3 L425.0 510.0 L425.8 520.0 L421.7 526.7 M646.0 470.0 L654.0 476.0 L670.0 478.0 L682.0 486.0 L692.0 484.0 L700.0 478.0 L710.0 480.0 L718.0 476.0 M692.0 484.0 L690.0 496.0 L698.0 502.0 L694.0 514.0 L688.0 518.0 L682.0 510.0 L680.0 506.0 M690.0 496.0 L682.0 496.0 L679.0 506.0 M624.0 510.0 L630.0 498.0 L636.0 496.0 L640.0 510.0 L650.0 518.0 M600.0 526.0 L610.0 534.0 L622.0 526.0 L624.0 510.0 L616.0 500.0 L606.0 498.0 M610.0 534.0 L620.0 550.0 L640.0 542.0 L650.0 550.0 M600.0 526.0 L596.0 536.0 L600.0 544.0 M622.0 526.0 L636.0 534.0 L640.0 542.0 M626.0 588.0 L638.0 582.0 L650.0 568.0 L662.0 560.0 L674.0 558.0 M674.0 558.0 L678.0 542.0 L670.0 536.0 M606.0 498.0 L616.0 490.0 L628.0 492.0 L636.0 496.0 M616.0 490.0 L620.0 480.0 L630.0 476.0 L636.0 482.0" fill="none" stroke="#f8f5f1" stroke-width="1.1" stroke-linejoin="round"/>
<path d="M523.1 164.4 L528.8 160.0 L528.8 154.8 L534.4 155.4 L542.8 163.8 L543.8 169.8 L551.9 163.1 L556.5 163.8 L554.0 152.2 L557.5 151.0 L572.5 158.5 L590.0 159.4 L591.9 163.1 L597.5 167.5 L602.8 167.5 L603.5 170.6 L617.5 170.0 L627.5 165.4 L639.4 164.8 L640.6 166.2 L653.8 165.2 L655.6 166.9 L663.8 167.0 L670.0 173.3 L660.0 174.4 L641.9 181.5 L630.0 180.6 L625.6 178.1 L605.0 178.1 L602.5 180.0 L613.1 179.1 L615.6 183.1 L611.9 184.0 L612.5 186.9 L625.0 187.5 L630.6 191.5 L633.1 188.5 L641.2 200.0 L637.5 201.2 L639.4 205.6 L642.5 206.9 L649.4 217.5 L648.1 221.9 L660.0 225.0 L670.0 230.0 L677.5 237.5 L680.0 223.8 L681.7 222.5 L703.3 222.5 L715.0 225.0 L730.0 235.0 L740.0 245.0 L743.3 253.3 L743.3 263.0 L734.2 249.7 L720.8 241.7 L722.5 246.7 L728.3 253.0 L724.2 253.7 L716.7 256.7 L710.0 260.8 L690.8 262.5 L685.8 268.3 L687.5 275.0 L690.0 281.7 L693.3 278.3 L701.7 283.3 L710.0 293.3 L708.3 298.3 L710.0 295.0 L707.5 302.2 L710.3 311.0 L710.8 316.6 L708.6 322.1 L698.7 324.9 L696.5 330.9 L689.3 333.1 L687.6 336.5 L681.5 339.8 L681.0 343.1 L683.8 348.6 L689.3 349.7 L692.0 354.1 L684.3 363.5 L689.3 371.8 L690.4 378.5 L687.5 381.7 L686.7 392.0 L681.7 394.0 L671.7 395.8 L641.7 396.7 L632.0 396.0 L624.0 406.0 L620.0 420.0 L623.0 429.0 L633.0 438.0 L620.0 444.0 L608.0 450.0 L600.0 456.0 L600.0 462.0 L610.0 471.0 L611.0 476.0 L618.0 484.0 L612.0 494.0 L604.0 491.0 L589.0 492.0 L586.0 482.0 L576.0 480.0 L582.0 474.0 L582.0 459.0 L556.0 454.0 L550.0 455.0 L542.0 446.0 L544.0 433.0 L540.0 420.0 L540.0 406.0 L531.0 380.0 L530.8 375.0 L550.0 377.5 L558.3 378.3 L564.2 371.7 L565.8 375.0 L569.2 373.3 L570.8 368.3 L581.7 358.3 L576.7 356.7 L573.3 350.0 L581.7 348.3 L583.3 335.8 L575.8 331.7 L577.5 325.0 L580.8 318.3 L575.8 300.0 L575.5 298.0 L577.0 294.0 L571.5 287.0 L571.0 283.0 L577.5 282.0 L577.0 277.0 L585.0 276.5 L591.5 275.0 L590.5 265.0 L590.0 260.0 L592.2 250.0 L591.5 244.5 L582.0 240.0 L579.2 229.5 L582.0 225.0 L582.5 240.6 L579.0 229.4 L581.9 226.2 L574.4 210.6 L578.1 206.9 L566.2 196.2 L565.6 191.9 L562.5 189.8 L555.2 193.1 L533.8 174.4 L532.5 169.0 L526.9 169.4Z" fill="#f5cdbe"/>
<path d="M523.5 144.8 L532.5 147.8 L531.5 151.0 L525.2 150.6Z" fill="#f5cdbe"/>
<path d="M533.5 188.5 L540.6 188.1 L541.5 193.1 L535.6 193.8Z" fill="#f5cdbe"/>
<path d="M555.4 316.1 L562.7 316.1 L561.2 332.6 L565.7 348.4 L567.5 352.3 L559.6 352.3 L557.8 348.4 L556.4 332.6Z" fill="#f5cdbe"/>
<path d="M567.5 350.8 L574.2 351.3 L574.2 355.0 L568.3 355.0Z" fill="#f5cdbe"/>
<path d="M543.3 385.0 L548.3 384.2 L555.0 388.3 L558.3 395.0 L550.8 396.7 L549.2 390.8 L544.2 388.3Z" fill="#f7f4f1"/>
<path d="M721.3 242.3 L734.7 249.0 L732.7 253.7 L742.7 262.3 L746.7 273.7 L748.7 284.3 L753.3 293.7 L755.3 307.0 L756.7 311.7 L775.0 314.0 L795.0 322.0 L810.0 338.0 L822.0 360.0 L834.0 382.0 L838.0 405.0 L834.0 420.0 L815.0 425.5 L803.3 432.5 L792.5 432.5 L791.7 427.5 L774.2 430.0 L772.5 435.0 L768.3 435.0 L763.3 442.5 L765.0 446.7 L760.8 450.8 L753.3 456.7 L740.0 464.2 L725.8 465.8 L721.7 464.2 L720.0 458.3 L710.8 459.2 L705.8 456.7 L689.2 455.0 L689.2 453.3 L690.0 443.3 L695.0 433.3 L699.2 423.3 L691.7 420.0 L691.7 411.7 L689.2 405.8 L690.0 397.5 L686.7 395.0 L687.5 381.7 L690.4 378.5 L705.9 377.3 L707.5 382.9 L713.0 379.6 L721.9 377.9 L725.2 376.2 L738.0 365.0 L742.0 348.0 L744.0 334.0 L732.7 311.7 L729.3 304.3 L727.3 296.3 L720.0 299.0 L716.7 305.7 L710.0 295.0 L704.0 287.0 L693.3 279.7 L688.7 281.7 L685.3 269.0 L690.0 263.0 L712.7 261.0 L716.7 259.0 L724.7 255.0 L727.3 251.7 L722.0 246.3Z" fill="#f6ddb1"/>
<path d="M705.0 461.7 L705.8 456.7 L710.8 459.2 L720.0 458.7 L721.7 464.2 L725.8 466.3 L740.0 464.2 L753.3 456.7 L760.8 450.8 L765.0 446.7 L763.3 442.5 L768.3 435.0 L772.5 435.0 L774.2 430.0 L781.7 428.3 L785.0 426.7 L785.0 433.3 L786.7 446.7 L790.0 456.7 L786.7 460.0 L787.0 470.0 L785.0 480.0 L781.0 500.0 L780.0 510.0 L779.0 518.0 L780.0 525.0 L775.0 534.0 L776.0 540.0 L781.0 542.0 L783.5 549.0 L782.5 554.0 L783.5 560.0 L782.5 564.0 L783.0 569.0 L782.5 573.5 L776.0 573.0 L770.0 570.0 L762.0 564.0 L756.0 557.0 L750.0 551.0 L736.0 540.0 L726.5 538.0 L725.8 533.6 L726.8 524.7 L722.8 521.7 L714.9 515.7 L718.9 508.7 L719.9 499.8 L721.8 492.8 L720.8 482.9 L717.9 473.9 L708.9 474.9 L705.9 466.0Z" fill="#d3dcbd"/>
<path d="M738.0 471.5 L749.7 466.9 L761.6 459.0 L768.0 456.5 L769.6 462.0 L759.7 469.9 L749.7 474.9 L738.5 480.0Z" fill="#f0e9de"/>
<path d="M815.9 494.2 L819.1 494.8 L819.3 497.8 L816.1 497.4Z" fill="#d3dcbd"/>
<path d="M818.9 498.2 L822.1 498.8 L822.3 501.8 L819.1 501.4Z" fill="#d3dcbd"/>
<path d="M821.9 503.2 L825.1 503.8 L825.3 506.8 L822.1 506.4Z" fill="#d3dcbd"/>
<path d="M825.4 508.2 L828.6 508.8 L828.8 511.8 L825.6 511.4Z" fill="#d3dcbd"/>
<path d="M830.4 514.2 L833.6 514.8 L833.8 517.8 L830.6 517.4Z" fill="#d3dcbd"/>
<path d="M837.4 519.2 L840.6 519.8 L840.8 522.8 L837.6 522.4Z" fill="#d3dcbd"/>
<path d="M440.2 477.2 L444.8 474.8 L453.0 475.4 L460.0 473.7 L464.7 470.2 L471.7 473.7 L478.7 478.3 L481.0 485.3 L479.8 494.7 L478.7 501.7 L480.4 506.3 L476.3 504.0 L464.7 501.7 L450.7 501.7 L447.2 495.8 L444.8 490.0 L442.5 483.0 L443.7 479.5Z" fill="#cfe6c2"/>
<path d="M481.0 509.8 L483.1 510.4 L483.6 517.4 L481.9 518.2 L480.4 513.3Z" fill="#cfe6c2"/>
<path d="M773.6 289.0 L779.0 290.0 L777.0 292.8 L773.0 291.8Z" fill="#a9c4ea"/>
<path d="M780.0 290.0 L786.0 291.0 L784.0 295.4 L781.0 293.2Z" fill="#a9c4ea"/>
<path d="M522.2 453.8 L525.3 454.2 L525.0 456.0 L522.5 455.6Z" fill="#f5cdbe"/>
<path d="M580.3 321.3 L589.2 317.2 L590.2 319.0 L582.0 325.0Z" fill="#f7f4f1"/>
<path d="M575.0 329.7 L588.3 334.7 L587.0 337.3 L575.0 332.7Z" fill="#f7f4f1"/>
<path d="M738.0 471.5 L749.7 466.9 L761.6 459.0 L768.0 456.5 L769.6 462.0 L759.7 469.9 L749.7 474.9 L738.5 480.0 L738.0 471.5 M721.3 242.3 L734.7 249.0 L732.7 253.7 L742.7 262.3 L746.7 273.7 L748.7 284.3 L753.3 293.7 L755.3 307.0 L756.7 311.7 L775.0 314.0 L795.0 322.0 L810.0 338.0 L822.0 360.0 L834.0 382.0 L838.0 405.0 L834.0 420.0 L815.0 425.5 L803.3 432.5 L792.5 432.5 L791.7 427.5 L774.2 430.0 L772.5 435.0 L768.3 435.0 L763.3 442.5 L765.0 446.7 L760.8 450.8 L753.3 456.7 L740.0 464.2 L725.8 465.8 L721.7 464.2 L720.0 458.3 L710.8 459.2 L705.8 456.7 L689.2 455.0 L689.2 453.3 L690.0 443.3 L695.0 433.3 L699.2 423.3 L691.7 420.0 L691.7 411.7 L689.2 405.8 L690.0 397.5 L686.7 395.0 L687.5 381.7 L690.4 378.5 L705.9 377.3 L707.5 382.9 L713.0 379.6 L721.9 377.9 L725.2 376.2 L738.0 365.0 L742.0 348.0 L744.0 334.0 L732.7 311.7 L729.3 304.3 L727.3 296.3 L720.0 299.0 L716.7 305.7 L710.0 295.0 L704.0 287.0 L693.3 279.7 L688.7 281.7 L685.3 269.0 L690.0 263.0 L712.7 261.0 L716.7 259.0 L724.7 255.0 L727.3 251.7 L722.0 246.3 L721.3 242.3 M707.5 302.2 L710.3 311.0 L710.8 316.6 L708.6 322.1 L698.7 324.9 L696.5 330.9 L689.3 333.1 L687.6 336.5 L681.5 339.8 L681.0 343.1 L683.8 348.6 L689.3 349.7 L692.0 354.1 L684.3 363.5 L689.3 371.8 L690.4 378.5 M705.0 461.7 L705.8 456.7 L710.8 459.2 L720.0 458.7 L721.7 464.2 L725.8 466.3 L740.0 464.2 L753.3 456.7 L760.8 450.8 L765.0 446.7 L763.3 442.5 L768.3 435.0 L772.5 435.0 L774.2 430.0 L781.7 428.3 L785.0 426.7 L785.0 433.3 L786.7 446.7 L790.0 456.7 L786.7 460.0" fill="none" stroke="#f8f5f1" stroke-width="1.1" stroke-linejoin="round"/>
<polyline points="672.3,306.7 679.2,306.7 679.2,330.0 672.3,330.0" fill="none" stroke="#ea8c78" stroke-width="1.5"/>
<polyline points="679.2,320.5 718.0,320.5" fill="none" stroke="#e6606a" stroke-width="1.3"/>
<polygon points="722.0,320.5 717.4,318.1 717.4,322.9" fill="#dc2a26"/>
<polyline points="672.3,346.7 680.0,346.7 680.0,387.5 672.3,387.5" fill="none" stroke="#ea8c78" stroke-width="1.5"/>
<polyline points="680.0,366.2 688.2,366.2 688.2,468.6" fill="none" stroke="#e98a7a" stroke-width="1.6"/>
<polyline points="687.4,468.6 725.0,468.6" fill="none" stroke="#e8807a" stroke-width="1.6"/>
<polyline points="725.0,468.6 758.5,468.6" fill="none" stroke="#e4645a" stroke-width="1.5"/>
<polygon points="762.5,468.6 757.9,466.2 757.9,471.0" fill="#dc2a26"/>
<polyline points="745.2,468.6 745.2,486.0" fill="none" stroke="#e2564e" stroke-width="1.4"/>
<polygon points="745.2,490.2 742.8,485.6 747.6,485.6" fill="#dc2a26"/>
<polyline points="597.8,395.5 597.8,506.0" fill="none" stroke="#e2564e" stroke-width="1.3"/>
<polygon points="597.8,510.3 595.4,505.7 600.2,505.7" fill="#dc2a26"/>
<polyline points="597.8,481.3 535.0,481.3" fill="none" stroke="#e4625a" stroke-width="1.3"/>
<polygon points="530.3,481.3 534.9,478.9 534.9,483.7" fill="#dc2a26"/>
<polyline points="620.2,395.5 620.2,579.6 602.0,579.6" fill="none" stroke="#e98a7a" stroke-width="1.6"/>
<polygon points="597.4,579.6 602.0,577.2 602.0,582.0" fill="#dc2a26"/>
<polyline points="620.2,507.4 641.5,507.4" fill="none" stroke="#e8807a" stroke-width="1.6"/>
<polygon points="646.0,507.4 641.4,505.0 641.4,509.8" fill="#dc2a26"/>
<polyline points="724.5,441.0 704.6,441.0 704.6,496.0" fill="none" stroke="#e3a72f" stroke-width="1.25"/>
<polygon points="704.6,500.2 702.2,495.6 707.0,495.6" fill="#dfa01a"/>
<polyline points="461.7,479.0 461.7,461.0" fill="none" stroke="#7cc064" stroke-width="1.25"/>
<polygon points="461.7,456.8 459.3,461.4 464.1,461.4" fill="#62b54a"/>
<circle cx="600.0" cy="259.7" r="8.55" fill="#e8705c" stroke="#d8151c" stroke-width="2.7"/><circle cx="600.0" cy="259.7" r="3.50" fill="#d8151c"/>
<circle cx="619.8" cy="259.7" r="8.55" fill="#e8705c" stroke="#d8151c" stroke-width="2.7"/><circle cx="619.8" cy="259.7" r="3.50" fill="#d8151c"/>
<circle cx="639.5" cy="259.7" r="8.55" fill="#e8705c" stroke="#d8151c" stroke-width="2.7"/><circle cx="639.5" cy="259.7" r="3.50" fill="#d8151c"/>
<circle cx="600.0" cy="279.5" r="8.55" fill="#e8705c" stroke="#d8151c" stroke-width="2.7"/><circle cx="600.0" cy="279.5" r="3.50" fill="#d8151c"/>
<circle cx="619.8" cy="279.5" r="8.55" fill="#e8705c" stroke="#d8151c" stroke-width="2.7"/><circle cx="619.8" cy="279.5" r="3.50" fill="#d8151c"/>
<circle cx="639.5" cy="279.5" r="8.55" fill="#e8705c" stroke="#d8151c" stroke-width="2.7"/><circle cx="639.5" cy="279.5" r="3.50" fill="#d8151c"/>
<circle cx="597.8" cy="306.7" r="8.75" fill="#f5c4b4" stroke="#ea8e7a" stroke-width="1.9"/>
<circle cx="620.3" cy="306.7" r="8.75" fill="#f5c4b4" stroke="#ea8e7a" stroke-width="1.9"/>
<circle cx="642.8" cy="306.7" r="8.75" fill="#f5c4b4" stroke="#ea8e7a" stroke-width="1.9"/>
<circle cx="662.5" cy="306.7" r="8.75" fill="#f5c4b4" stroke="#ea8e7a" stroke-width="1.9"/>
<circle cx="597.8" cy="326.3" r="8.75" fill="#f5c4b4" stroke="#ea8e7a" stroke-width="1.9"/>
<circle cx="620.3" cy="326.3" r="8.75" fill="#f5c4b4" stroke="#ea8e7a" stroke-width="1.9"/>
<circle cx="642.8" cy="326.3" r="8.75" fill="#f5c4b4" stroke="#ea8e7a" stroke-width="1.9"/>
<circle cx="662.5" cy="326.3" r="8.75" fill="#f5c4b4" stroke="#ea8e7a" stroke-width="1.9"/>
<circle cx="597.8" cy="346.2" r="8.75" fill="#f5c4b4" stroke="#ea8e7a" stroke-width="1.9"/>
<circle cx="620.3" cy="346.2" r="8.75" fill="#f5c4b4" stroke="#ea8e7a" stroke-width="1.9"/>
<circle cx="642.8" cy="346.2" r="8.75" fill="#f5c4b4" stroke="#ea8e7a" stroke-width="1.9"/>
<circle cx="662.5" cy="346.2" r="8.75" fill="#f5c4b4" stroke="#ea8e7a" stroke-width="1.9"/>
<circle cx="597.8" cy="365.8" r="8.75" fill="#f5c4b4" stroke="#ea8e7a" stroke-width="1.9"/>
<circle cx="620.3" cy="365.8" r="8.75" fill="#f5c4b4" stroke="#ea8e7a" stroke-width="1.9"/>
<circle cx="642.8" cy="365.8" r="8.75" fill="#f5c4b4" stroke="#ea8e7a" stroke-width="1.9"/>
<circle cx="662.5" cy="365.8" r="8.75" fill="#f5c4b4" stroke="#ea8e7a" stroke-width="1.9"/>
<circle cx="597.8" cy="385.5" r="8.75" fill="#f5c4b4" stroke="#ea8e7a" stroke-width="1.9"/>
<circle cx="620.3" cy="385.5" r="8.75" fill="#f5c4b4" stroke="#ea8e7a" stroke-width="1.9"/>
<circle cx="642.8" cy="385.5" r="8.75" fill="#f5c4b4" stroke="#ea8e7a" stroke-width="1.9"/>
<circle cx="662.5" cy="385.5" r="8.75" fill="#f5c4b4" stroke="#ea8e7a" stroke-width="1.9"/>
<circle cx="733.5" cy="319.7" r="8.25" fill="#ffffff" stroke="#ee9682" stroke-width="2.5"/><circle cx="733.5" cy="319.7" r="3.50" fill="#dc141e"/>
<circle cx="753.2" cy="319.7" r="8.25" fill="#ffffff" stroke="#ee9682" stroke-width="2.5"/><circle cx="753.2" cy="319.7" r="3.50" fill="#dc141e"/>
<circle cx="772.8" cy="319.7" r="8.25" fill="#ffffff" stroke="#ee9682" stroke-width="2.5"/><circle cx="772.8" cy="319.7" r="3.50" fill="#dc141e"/>
<circle cx="792.5" cy="319.7" r="8.25" fill="#ffffff" stroke="#ee9682" stroke-width="2.5"/><circle cx="792.5" cy="319.7" r="3.50" fill="#dc141e"/>
<circle cx="813.7" cy="319.7" r="8.40" fill="#ecbf66" stroke="#e0a000" stroke-width="2.8"/><circle cx="813.7" cy="319.7" r="3.20" fill="#e0a000"/>
<circle cx="833.4" cy="319.7" r="8.40" fill="#ecbf66" stroke="#e0a000" stroke-width="2.8"/><circle cx="833.4" cy="319.7" r="3.20" fill="#e0a000"/>
<circle cx="733.5" cy="339.4" r="8.40" fill="#ecbf66" stroke="#e0a000" stroke-width="2.8"/><circle cx="733.5" cy="339.4" r="3.20" fill="#e0a000"/>
<circle cx="753.2" cy="339.4" r="8.40" fill="#ecbf66" stroke="#e0a000" stroke-width="2.8"/><circle cx="753.2" cy="339.4" r="3.20" fill="#e0a000"/>
<circle cx="772.8" cy="339.4" r="8.40" fill="#ecbf66" stroke="#e0a000" stroke-width="2.8"/><circle cx="772.8" cy="339.4" r="3.20" fill="#e0a000"/>
<circle cx="792.5" cy="339.4" r="8.40" fill="#ecbf66" stroke="#e0a000" stroke-width="2.8"/><circle cx="792.5" cy="339.4" r="3.20" fill="#e0a000"/>
<circle cx="812.1" cy="339.4" r="8.40" fill="#ecbf66" stroke="#e0a000" stroke-width="2.8"/><circle cx="812.1" cy="339.4" r="3.20" fill="#e0a000"/>
<circle cx="831.8" cy="339.4" r="8.40" fill="#ecbf66" stroke="#e0a000" stroke-width="2.8"/><circle cx="831.8" cy="339.4" r="3.20" fill="#e0a000"/>
<circle cx="733.5" cy="359.2" r="8.40" fill="#ecbf66" stroke="#e0a000" stroke-width="2.8"/><circle cx="733.5" cy="359.2" r="3.20" fill="#e0a000"/>
<circle cx="753.2" cy="359.2" r="8.40" fill="#ecbf66" stroke="#e0a000" stroke-width="2.8"/><circle cx="753.2" cy="359.2" r="3.20" fill="#e0a000"/>
<circle cx="772.8" cy="359.2" r="8.40" fill="#ecbf66" stroke="#e0a000" stroke-width="2.8"/><circle cx="772.8" cy="359.2" r="3.20" fill="#e0a000"/>
<circle cx="792.5" cy="359.2" r="8.40" fill="#ecbf66" stroke="#e0a000" stroke-width="2.8"/><circle cx="792.5" cy="359.2" r="3.20" fill="#e0a000"/>
<circle cx="812.1" cy="359.2" r="8.40" fill="#ecbf66" stroke="#e0a000" stroke-width="2.8"/><circle cx="812.1" cy="359.2" r="3.20" fill="#e0a000"/>
<circle cx="831.8" cy="359.2" r="8.40" fill="#ecbf66" stroke="#e0a000" stroke-width="2.8"/><circle cx="831.8" cy="359.2" r="3.20" fill="#e0a000"/>
<circle cx="733.5" cy="379.0" r="8.40" fill="#ecbf66" stroke="#e0a000" stroke-width="2.8"/><circle cx="733.5" cy="379.0" r="3.20" fill="#e0a000"/>
<circle cx="753.2" cy="379.0" r="8.40" fill="#ecbf66" stroke="#e0a000" stroke-width="2.8"/><circle cx="753.2" cy="379.0" r="3.20" fill="#e0a000"/>
<circle cx="772.8" cy="379.0" r="8.40" fill="#ecbf66" stroke="#e0a000" stroke-width="2.8"/><circle cx="772.8" cy="379.0" r="3.20" fill="#e0a000"/>
<circle cx="792.5" cy="379.0" r="8.40" fill="#ecbf66" stroke="#e0a000" stroke-width="2.8"/><circle cx="792.5" cy="379.0" r="3.20" fill="#e0a000"/>
<circle cx="812.1" cy="379.0" r="8.40" fill="#ecbf66" stroke="#e0a000" stroke-width="2.8"/><circle cx="812.1" cy="379.0" r="3.20" fill="#e0a000"/>
<circle cx="831.8" cy="379.0" r="8.40" fill="#ecbf66" stroke="#e0a000" stroke-width="2.8"/><circle cx="831.8" cy="379.0" r="3.20" fill="#e0a000"/>
<circle cx="733.5" cy="398.8" r="8.40" fill="#ecbf66" stroke="#e0a000" stroke-width="2.8"/><circle cx="733.5" cy="398.8" r="3.20" fill="#e0a000"/>
<circle cx="753.2" cy="398.8" r="8.40" fill="#ecbf66" stroke="#e0a000" stroke-width="2.8"/><circle cx="753.2" cy="398.8" r="3.20" fill="#e0a000"/>
<circle cx="772.8" cy="398.8" r="8.40" fill="#ecbf66" stroke="#e0a000" stroke-width="2.8"/><circle cx="772.8" cy="398.8" r="3.20" fill="#e0a000"/>
<circle cx="792.5" cy="398.8" r="8.40" fill="#ecbf66" stroke="#e0a000" stroke-width="2.8"/><circle cx="792.5" cy="398.8" r="3.20" fill="#e0a000"/>
<circle cx="812.1" cy="398.8" r="8.40" fill="#ecbf66" stroke="#e0a000" stroke-width="2.8"/><circle cx="812.1" cy="398.8" r="3.20" fill="#e0a000"/>
<circle cx="832.8" cy="400.3" r="8.40" fill="#ecbf66" stroke="#e0a000" stroke-width="2.8"/><circle cx="832.8" cy="400.3" r="3.20" fill="#e0a000"/>
<circle cx="733.5" cy="418.4" r="8.40" fill="#ecbf66" stroke="#e0a000" stroke-width="2.8"/><circle cx="733.5" cy="418.4" r="3.20" fill="#e0a000"/>
<circle cx="753.2" cy="418.4" r="8.40" fill="#ecbf66" stroke="#e0a000" stroke-width="2.8"/><circle cx="753.2" cy="418.4" r="3.20" fill="#e0a000"/>
<circle cx="772.8" cy="418.4" r="8.40" fill="#ecbf66" stroke="#e0a000" stroke-width="2.8"/><circle cx="772.8" cy="418.4" r="3.20" fill="#e0a000"/>
<circle cx="792.5" cy="418.4" r="8.40" fill="#ecbf66" stroke="#e0a000" stroke-width="2.8"/><circle cx="792.5" cy="418.4" r="3.20" fill="#e0a000"/>
<circle cx="812.1" cy="418.4" r="8.40" fill="#ecbf66" stroke="#e0a000" stroke-width="2.8"/><circle cx="812.1" cy="418.4" r="3.20" fill="#e0a000"/>
<circle cx="832.8" cy="419.9" r="8.40" fill="#ecbf66" stroke="#e0a000" stroke-width="2.8"/><circle cx="832.8" cy="419.9" r="3.20" fill="#e0a000"/>
<circle cx="733.4" cy="441.0" r="8.70" fill="none" stroke="#e0a000" stroke-width="2.0"/>
<circle cx="779.0" cy="280.0" r="8.60" fill="#5c9bd8" stroke="#1868bc" stroke-width="2.8"/><circle cx="779.0" cy="280.0" r="2.90" fill="#1868bc"/>
<circle cx="798.5" cy="280.0" r="8.60" fill="#5c9bd8" stroke="#1868bc" stroke-width="2.8"/><circle cx="798.5" cy="280.0" r="2.90" fill="#1868bc"/>
<circle cx="818.0" cy="280.0" r="8.60" fill="#5c9bd8" stroke="#1868bc" stroke-width="2.8"/><circle cx="818.0" cy="280.0" r="2.90" fill="#1868bc"/>
<circle cx="773.8" cy="468.7" r="8.25" fill="#ffffff" stroke="#ee9682" stroke-width="2.5"/><circle cx="773.8" cy="468.7" r="3.50" fill="#dc141e"/>
<circle cx="793.4" cy="468.7" r="8.25" fill="#ffffff" stroke="#ee9682" stroke-width="2.5"/><circle cx="793.4" cy="468.7" r="3.50" fill="#dc141e"/>
<circle cx="746.2" cy="501.6" r="8.25" fill="#ffffff" stroke="#ee9682" stroke-width="2.5"/><circle cx="746.2" cy="501.6" r="3.50" fill="#dc141e"/>
<circle cx="765.8" cy="501.6" r="8.25" fill="#ffffff" stroke="#ee9682" stroke-width="2.5"/><circle cx="765.8" cy="501.6" r="3.50" fill="#dc141e"/>
<circle cx="746.2" cy="521.2" r="8.25" fill="#ffffff" stroke="#ee9682" stroke-width="2.5"/><circle cx="746.2" cy="521.2" r="3.50" fill="#dc141e"/>
<circle cx="765.8" cy="521.2" r="8.25" fill="#ffffff" stroke="#ee9682" stroke-width="2.5"/><circle cx="765.8" cy="521.2" r="3.50" fill="#dc141e"/>
<circle cx="746.2" cy="540.9" r="8.40" fill="#a0b872" stroke="#6e9230" stroke-width="2.8"/><circle cx="746.2" cy="540.9" r="2.90" fill="#6e9230"/>
<circle cx="765.8" cy="540.9" r="8.40" fill="#a0b872" stroke="#6e9230" stroke-width="2.8"/><circle cx="765.8" cy="540.9" r="2.90" fill="#6e9230"/>
<circle cx="704.6" cy="511.6" r="8.25" fill="#ffffff" stroke="#e0a000" stroke-width="2.3"/><circle cx="704.6" cy="511.6" r="3.30" fill="#e0a000"/>
<circle cx="657.3" cy="507.3" r="8.25" fill="#ffffff" stroke="#ee9682" stroke-width="2.5"/><circle cx="657.3" cy="507.3" r="3.50" fill="#dc141e"/>
<circle cx="518.8" cy="480.4" r="8.25" fill="#ffffff" stroke="#ee8a72" stroke-width="2.5"/><circle cx="518.8" cy="480.4" r="3.50" fill="#dc141e"/>
<circle cx="541.6" cy="521.1" r="8.25" fill="#ffffff" stroke="#ee8a72" stroke-width="2.5"/><circle cx="541.6" cy="521.1" r="3.50" fill="#dc141e"/>
<circle cx="561.3" cy="521.1" r="8.25" fill="#ffffff" stroke="#ee8a72" stroke-width="2.5"/><circle cx="561.3" cy="521.1" r="3.50" fill="#dc141e"/>
<circle cx="581.0" cy="521.1" r="8.25" fill="#ffffff" stroke="#ee8a72" stroke-width="2.5"/><circle cx="581.0" cy="521.1" r="3.50" fill="#dc141e"/>
<circle cx="600.8" cy="521.1" r="8.25" fill="#ffffff" stroke="#ee8a72" stroke-width="2.5"/><circle cx="600.8" cy="521.1" r="3.50" fill="#dc141e"/>
<circle cx="526.3" cy="580.3" r="8.25" fill="#ffffff" stroke="#ee8a72" stroke-width="2.5"/><circle cx="526.3" cy="580.3" r="3.50" fill="#dc141e"/>
<circle cx="545.9" cy="580.3" r="8.25" fill="#ffffff" stroke="#ee8a72" stroke-width="2.5"/><circle cx="545.9" cy="580.3" r="3.50" fill="#dc141e"/>
<circle cx="565.5" cy="580.3" r="8.25" fill="#ffffff" stroke="#ee8a72" stroke-width="2.5"/><circle cx="565.5" cy="580.3" r="3.50" fill="#dc141e"/>
<circle cx="585.2" cy="580.3" r="8.25" fill="#ffffff" stroke="#ee8a72" stroke-width="2.5"/><circle cx="585.2" cy="580.3" r="3.50" fill="#dc141e"/>
<circle cx="451.8" cy="446.7" r="8.25" fill="#ffffff" stroke="#a9d69b" stroke-width="2.5"/><circle cx="451.8" cy="446.7" r="3.50" fill="#5db345"/>
<circle cx="471.3" cy="446.7" r="8.25" fill="#ffffff" stroke="#a9d69b" stroke-width="2.5"/><circle cx="471.3" cy="446.7" r="3.50" fill="#5db345"/>
<circle cx="452.0" cy="487.2" r="8.75" fill="#cfe8c4" stroke="#9fd08e" stroke-width="1.9"/>
<circle cx="471.4" cy="487.2" r="8.75" fill="#cfe8c4" stroke="#9fd08e" stroke-width="1.9"/>
<text x="12.6" y="35" font-size="25.5" font-weight="bold" fill="#0c0c0c" textLength="708" lengthAdjust="spacingAndGlyphs">Nuclear Power Reactors Under Construction in the World</text>
<text x="12.4" y="76" font-size="19.4" font-weight="normal" fill="#282828" textLength="594.5" lengthAdjust="spacingAndGlyphs" stroke="#f7f4f1" stroke-width="0.42">Units by Technology-Supplier Country and Construction Country</text>
<text x="12.4" y="111.7" font-size="19.4" font-weight="normal" fill="#282828" textLength="198.5" lengthAdjust="spacingAndGlyphs" stroke="#f7f4f1" stroke-width="0.42">as of 1 January 2026</text>
<text x="517.85" y="346.2" font-size="19.6" font-weight="normal" fill="#101010" textLength="59.3" lengthAdjust="spacingAndGlyphs" stroke="#101010" stroke-width="0.85" stroke-linejoin="round">Russia</text>
<text x="840.95" y="287" font-size="19.6" font-weight="normal" fill="#101010" textLength="111.1" lengthAdjust="spacingAndGlyphs" stroke="#101010" stroke-width="0.85" stroke-linejoin="round">South Korea</text>
<text x="845.75" y="368" font-size="19.6" font-weight="normal" fill="#101010" textLength="52.3" lengthAdjust="spacingAndGlyphs" stroke="#101010" stroke-width="0.85" stroke-linejoin="round">China</text>
<text x="810.35" y="475.8" font-size="19.6" font-weight="normal" fill="#101010" textLength="104.8" lengthAdjust="spacingAndGlyphs" stroke="#101010" stroke-width="0.85" stroke-linejoin="round">Bangladesh</text>
<text x="781.65" y="520.8" font-size="19.6" font-weight="normal" fill="#101010" textLength="42.2" lengthAdjust="spacingAndGlyphs" stroke="#101010" stroke-width="0.85" stroke-linejoin="round">India</text>
<text x="652.35" y="537.5" font-size="19.6" font-weight="normal" fill="#101010" textLength="75.6" lengthAdjust="spacingAndGlyphs" stroke="#101010" stroke-width="0.85" stroke-linejoin="round">Pakistan</text>
<text x="641.15" y="492.5" font-size="19.6" font-weight="normal" fill="#101010" textLength="32.0" lengthAdjust="spacingAndGlyphs" stroke="#101010" stroke-width="0.85" stroke-linejoin="round">Iran</text>
<text x="496.15000000000003" y="466.7" font-size="19.6" font-weight="normal" fill="#101010" textLength="85.0" lengthAdjust="spacingAndGlyphs" stroke="#101010" stroke-width="0.85" stroke-linejoin="round">Slovakia*</text>
<text x="543.35" y="548.7" font-size="19.6" font-weight="normal" fill="#101010" textLength="61.3" lengthAdjust="spacingAndGlyphs" stroke="#101010" stroke-width="0.85" stroke-linejoin="round">Türkiye</text>
<text x="537.85" y="610.5" font-size="19.6" font-weight="normal" fill="#101010" textLength="51.8" lengthAdjust="spacingAndGlyphs" stroke="#101010" stroke-width="0.85" stroke-linejoin="round">Egypt</text>
<text x="400.35" y="454.2" font-size="19.6" font-weight="normal" fill="#101010" textLength="36.8" lengthAdjust="spacingAndGlyphs" stroke="#101010" stroke-width="0.85" stroke-linejoin="round">U.K.</text>
<text x="430.35" y="513.7" font-size="19.6" font-weight="normal" fill="#101010" textLength="59.3" lengthAdjust="spacingAndGlyphs" stroke="#101010" stroke-width="0.85" stroke-linejoin="round">France</text>
<rect x="735" y="644.5" width="24" height="20" fill="#c9c9c9"/>
<text x="773.7" y="661.4" font-size="21.2" font-weight="normal" fill="#282828" textLength="267.5" lengthAdjust="spacingAndGlyphs" stroke="#f7f4f1" stroke-width="0.42">Technology-Supplier Country</text>
<text x="735.3" y="699" font-size="19.8" font-weight="bold" fill="#111" textLength="323" lengthAdjust="spacingAndGlyphs">Reactors under Construction with</text>
<text x="773.7" y="730.4" font-size="21.2" font-weight="normal" fill="#282828" textLength="195.3" lengthAdjust="spacingAndGlyphs" stroke="#f7f4f1" stroke-width="0.42">Domestic Technology</text>
<text x="773.7" y="762.2" font-size="21.2" font-weight="normal" fill="#282828" textLength="177.3" lengthAdjust="spacingAndGlyphs" stroke="#f7f4f1" stroke-width="0.42">Foreign Technology</text>
<text x="773.7" y="795.6" font-size="21.2" font-weight="normal" fill="#282828" textLength="379.5" lengthAdjust="spacingAndGlyphs" stroke="#f7f4f1" stroke-width="0.42">Technology supplied to a Foreign Country</text>
<circle cx="746.6" cy="724.6" r="8.50" fill="#7d7d7d" stroke="#151515" stroke-width="2.6"/><circle cx="746.6" cy="724.6" r="3.60" fill="#151515"/>
<circle cx="746.6" cy="756.2" r="8.80" fill="#ffffff" stroke="#ababab" stroke-width="1.6"/><circle cx="746.6" cy="756.2" r="3.20" fill="#151515"/>
<circle cx="746.6" cy="789.2" r="8.80" fill="#dedede" stroke="#b9b9b9" stroke-width="1.6"/>
<text x="41.6" y="857.6" font-size="15.8" font-weight="normal" fill="#262626" textLength="416.5" lengthAdjust="spacingAndGlyphs" stroke="#f7f4f1" stroke-width="0.22">* The Mochovce Unit 4 in Slovakia is a Russian VVER design</text>
<text x="41.2" y="875.3" font-size="15.8" font-weight="normal" fill="#262626" textLength="294" lengthAdjust="spacingAndGlyphs" stroke="#f7f4f1" stroke-width="0.22">being completed by Czech-led consortium.</text>
<text x="738.8" y="876.2" font-size="13.7" fill="#b5a271" textLength="330.5" lengthAdjust="spacingAndGlyphs" letter-spacing="1.2" stroke="#b5a271" stroke-width="0.25">© WNISR - M<tspan font-size="11.0" style="text-transform:uppercase">ycle</tspan> S<tspan font-size="11.0" style="text-transform:uppercase">chneider</tspan> C<tspan font-size="11.0" style="text-transform:uppercase">onsulting</tspan></text>
</svg>
</body></html>
